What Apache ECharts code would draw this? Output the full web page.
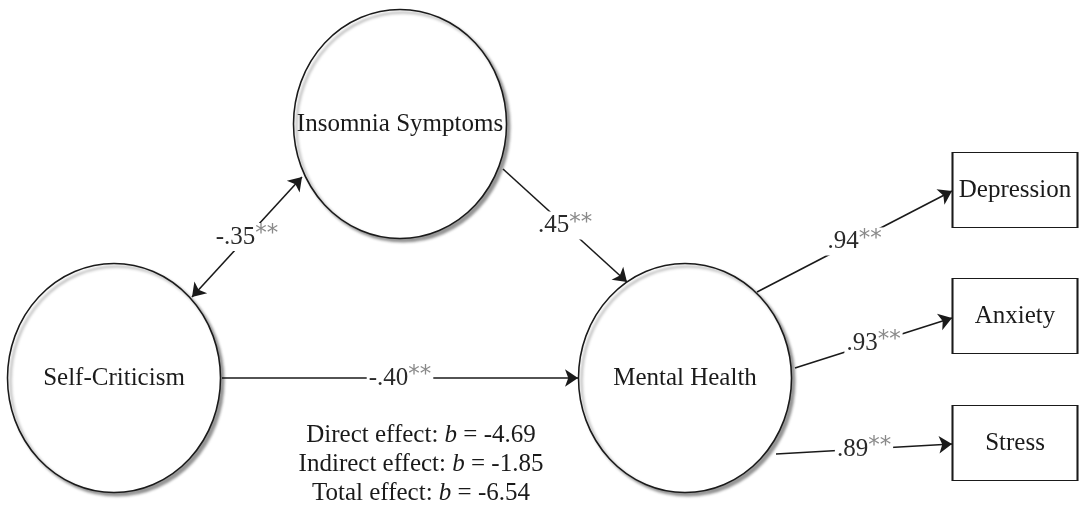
<!DOCTYPE html>
<html>
<head>
<meta charset="utf-8">
<script src="https://cdn.jsdelivr.net/npm/echarts@6/dist/echarts.min.js"></script>
<style>
  html, body { margin: 0; padding: 0; background: #fff; }
  #chart { width: 1080px; height: 508px; }
</style>
</head>
<body>
<div id="chart"></div>
<script>
// model content
var latentNames = ['Insomnia Symptoms', 'Self-Criticism', 'Mental Health'];
var indicatorNames = ['Depression', 'Anxiety', 'Stress'];
var pathCoefs = ['-.35', '.45', '-.40', '.94', '.93', '.89'];
var pathSig = ['**', '**', '**', '**', '**', '**'];
var effectNames = ['Direct effect', 'Indirect effect', 'Total effect'];
var effectValues = ['-4.69', '-1.85', '-6.54'];

// layout (pixels of the 1080x508 canvas)
var latentPos = [[400, 124], [114, 378], [685, 378]];
var latentSize = [213, 229];
var indicatorPos = [[1015, 190], [1015, 316], [1015, 443]];
var indicatorSize = [125, 75];
// path ends: [from, to]; first one is two-headed
var pathEnds = [
  [[192, 297], [302, 177]],
  [[503, 169], [627, 282]],
  [[222, 378], [578, 378]],
  [[757, 292], [952, 191]],
  [[795, 368], [952, 318]],
  [[776, 454], [952, 444]]
];
var effectPos = [[421, 435], [421, 464], [421, 493]];

var FONT = 'Liberation Serif';
var INK = '#1a1a1a';

var midpoints = pathEnds.map(function (p) {
  return [(p[0][0] + p[1][0]) / 2, (p[0][1] + p[1][1]) / 2];
});

var chart = echarts.init(document.getElementById('chart'));
chart.setOption({
  backgroundColor: '#fff',
  animation: false,
  grid: { left: 0, right: 0, top: 0, bottom: 0 },
  xAxis: { type: 'value', min: 0, max: 1080, show: false },
  yAxis: { type: 'value', min: 0, max: 508, inverse: true, show: false },
  series: [
    {
      type: 'lines',
      coordinateSystem: 'cartesian2d',
      symbol: ['arrow', 'arrow'],
      symbolSize: 13,
      lineStyle: { color: INK, width: 1.6, opacity: 1 },
      z: 2,
      data: [{ coords: pathEnds[0] }]
    },
    {
      type: 'lines',
      coordinateSystem: 'cartesian2d',
      symbol: ['none', 'arrow'],
      symbolSize: 13,
      lineStyle: { color: INK, width: 1.6, opacity: 1 },
      z: 2,
      data: pathEnds.slice(1).map(function (p) { return { coords: p }; })
    },
    {
      type: 'scatter',
      symbol: 'circle',
      symbolSize: latentSize,
      z: 3,
      itemStyle: {
        color: '#fff', opacity: 1, borderColor: INK, borderWidth: 1.6,
        shadowColor: 'rgba(0,0,0,0.4)', shadowBlur: 3, shadowOffsetX: 3, shadowOffsetY: 3
      },
      label: {
        show: true, position: 'inside', color: INK,
        fontFamily: FONT, fontSize: 25,
        formatter: function (p) { return latentNames[p.dataIndex]; }
      },
      data: latentPos
    },
    {
      type: 'scatter',
      symbol: 'rect',
      symbolSize: indicatorSize,
      z: 3,
      itemStyle: { color: '#fff', opacity: 1, borderColor: INK, borderWidth: 1.6 },
      label: {
        show: true, position: 'inside', color: INK,
        fontFamily: FONT, fontSize: 25,
        formatter: function (p) { return indicatorNames[p.dataIndex]; }
      },
      data: indicatorPos
    },
    {
      type: 'scatter',
      symbolSize: 0,
      z: 4,
      itemStyle: { opacity: 1 },
      label: {
        show: true, position: 'inside',
        backgroundColor: '#fff', padding: [0, 2],
        formatter: function (p) {
          return '{n|' + pathCoefs[p.dataIndex] + '}{s|' + pathSig[p.dataIndex] + '}';
        },
        rich: {
          n: { fontFamily: FONT, fontSize: 25, color: '#2a2a2a' },
          s: { fontFamily: 'DejaVu Sans', fontSize: 23, color: '#8a8a8a', padding: [0, 0, 5, 0] }
        }
      },
      data: midpoints
    },
    {
      type: 'scatter',
      symbolSize: 0,
      z: 4,
      itemStyle: { opacity: 1 },
      label: {
        show: true, position: 'inside',
        formatter: function (p) {
          return '{t|' + effectNames[p.dataIndex] + ': }{i|b}{t| = ' + effectValues[p.dataIndex] + '}';
        },
        rich: {
          t: { fontFamily: FONT, fontSize: 25, color: INK },
          i: { fontFamily: FONT, fontSize: 25, color: INK, fontStyle: 'italic' }
        }
      },
      data: effectPos
    }
  ]
});
</script>
</body>
</html>
